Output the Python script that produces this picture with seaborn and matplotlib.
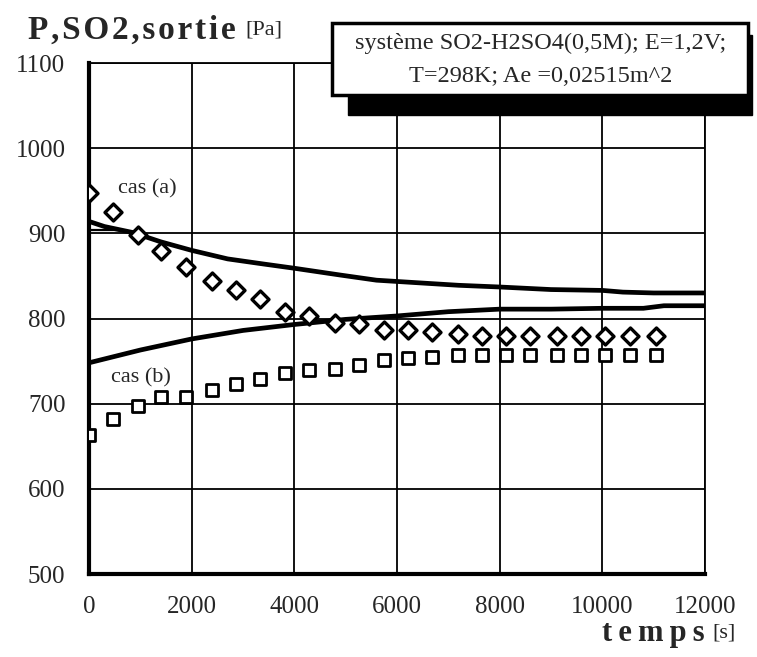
import matplotlib.pyplot as plt
import matplotlib.patches as mpatches
import pandas as pd
import seaborn as sns

t_mes = [0, 470, 950, 1400, 1880, 2400, 2870, 3330, 3810, 4280, 4800, 5250,
         5740, 6210, 6690, 7190, 7660, 8130, 8600, 9120, 9590, 10060, 10530,
         11040]
p_cas_a = [947, 925, 898, 879, 861, 844, 833, 823, 808, 803, 795, 793,
           786, 787, 784, 782, 779, 779, 779, 779, 779, 779, 779, 779]
p_cas_b = [663, 682, 697, 708, 708, 716, 723, 729, 736, 739, 741, 745,
           751, 754, 755, 757, 757, 757, 757, 757, 757, 757, 757, 757]

# model curves (thick lines)
t_mod_a = [0, 300, 850, 1400, 2000, 2700, 3400, 4000, 4900, 5600, 6400,
           7200, 8000, 9000, 10000, 10400, 11000, 12000]
p_mod_a = [914, 908, 901, 890, 880, 870, 864, 859, 851, 845, 842, 839,
           837, 834, 833, 831, 830, 830]
t_mod_b = [0, 1000, 2000, 3000, 4000, 5000, 6000, 7000, 8000, 9000, 10000,
           10800, 11200, 12000]
p_mod_b = [748, 763, 776, 786, 793, 799, 803, 808, 811, 811, 812, 812,
           815, 815]
# short thin branch at the start of cas (a)
t_mod_a2 = [0, 250, 560]
p_mod_a2 = [904, 904, 904]

x_ticks = [0, 2000, 4000, 6000, 8000, 10000, 12000]
x_minor = [1000, 3000, 5000, 7000, 9000, 11000]
y_ticks = [500, 600, 700, 800, 900, 1000, 1100]

sns.set_style('white')
plt.rcParams['font.family'] = ['Liberation Serif', 'DejaVu Serif']


def spaced(s, gap):
    # the scan uses letter-spaced bold labels
    return gap.join(s)


fig = plt.figure(figsize=(7.57, 6.57), dpi=100)
ax = fig.add_axes([0.1176, 0.1263, 0.8137, 0.7778])

mes = pd.DataFrame({'t': t_mes, 'a': p_cas_a, 'b': p_cas_b})
sns.lineplot(x=t_mod_a, y=p_mod_a, ax=ax, color='black', lw=3.4)
sns.lineplot(x=t_mod_b, y=p_mod_b, ax=ax, color='black', lw=3.4)
sns.lineplot(x=t_mod_a2, y=p_mod_a2, ax=ax, color='black', lw=1.6)
sns.scatterplot(data=mes, x='t', y='a', ax=ax, marker='D', s=75,
                facecolor='white', edgecolor='black', linewidth=2.4, zorder=5)
sns.scatterplot(data=mes, x='t', y='b', ax=ax, marker='s', s=85,
                facecolor='white', edgecolor='black', linewidth=2.0, zorder=5)

ax.set_xlim(0, 12000)
ax.set_ylim(500, 1100)
ax.set_xticks(x_ticks)
ax.set_xticks(x_minor, minor=True)
ax.set_yticks(y_ticks)
ax.set_xlabel('')
ax.set_ylabel('')
ax.grid(True, which='major', color='black', lw=1.3)
ax.set_axisbelow(True)
ax.tick_params(axis='both', which='both', direction='in', length=7,
               width=2.5, color='black', labelsize=18)
ax.tick_params(axis='y', pad=17)
ax.tick_params(axis='x', pad=16)
ax.tick_params(top=False, right=False)
for side in ['left', 'bottom']:
    ax.spines[side].set_linewidth(3)
for side in ['top', 'right']:
    ax.spines[side].set_linewidth(1.3)
for sp in ax.spines.values():
    sp.set_color('black')

ax.text(560, 952, 'cas (a)', fontsize=16, va='center')
ax.text(420, 730, 'cas (b)', fontsize=16, va='center')

fig.text(28 / 757, 1 - 30 / 657, spaced('P,SO2,sortie', '\u200a'),
         fontsize=24, fontweight='bold', va='center')
fig.text(245 / 757, 1 - 30 / 657, '[Pa]', fontsize=16, va='center')
fig.text(705 / 757, 1 - 633 / 657, spaced('temps', '\u2009'), fontsize=22,
         fontweight='bold', va='center', ha='right')
fig.text(712 / 757, 1 - 633 / 657, '[s]', fontsize=16, va='center')

# annotation box with a drop shadow
shadow = mpatches.Rectangle((348 / 757, 1 - 115 / 657), 404 / 757, 80 / 657,
                            transform=fig.transFigure, facecolor='black',
                            edgecolor='black', zorder=10)
box = mpatches.Rectangle((332 / 757, 1 - 95 / 657), 416 / 757, 72 / 657,
                         transform=fig.transFigure, facecolor='white',
                         edgecolor='black', lw=2.5, zorder=11)
fig.add_artist(shadow)
fig.add_artist(box)
fig.text(541 / 757, 1 - 43 / 657, 'système SO2-H2SO4(0,5M); E=1,2V;',
         fontsize=17.5, ha='center', va='center', zorder=12)
fig.text(541 / 757, 1 - 76 / 657, 'T=298K; Ae =0,02515m^2',
         fontsize=17.5, ha='center', va='center', zorder=12)

fig.savefig('out.png', dpi=100)
